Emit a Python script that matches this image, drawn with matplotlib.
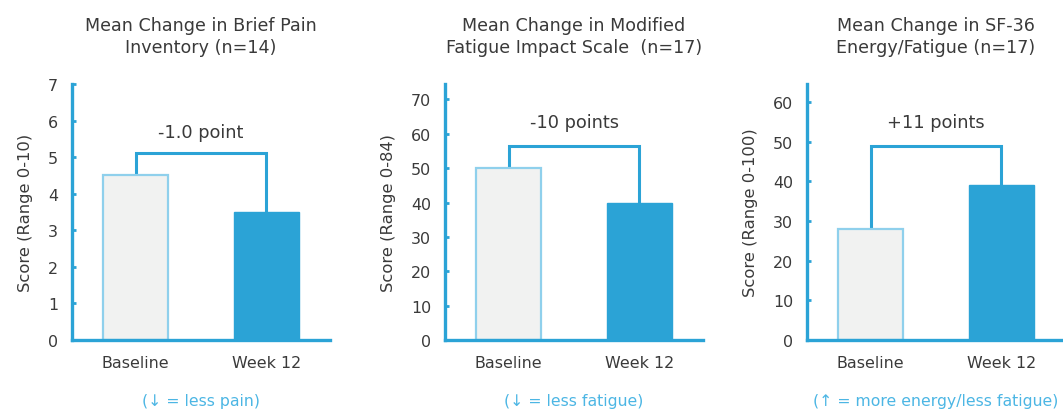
import matplotlib.pyplot as plt

# --- データ ---------------------------------------------------------------
categories = ['Baseline', 'Week 12']
titles = ['Mean Change in Brief Pain\nInventory (n=14)',
          'Mean Change in Modified\nFatigue Impact Scale  (n=17)',
          'Mean Change in SF-36\nEnergy/Fatigue (n=17)']
ylabels = ['Score (Range 0-10)', 'Score (Range 0-84)', 'Score (Range 0-100)']
bpi_values = [4.5, 3.5]
mfis_values = [50, 40]
sf36_values = [28, 39]
change_labels = ['-1.0 point', '-10 points', '+11 points']
bracket_levels = [5.1, 56.5, 48.8]
label_levels = [5.7, 63.5, 55]
ylims = [7, 74.5, 64.5]
yticks = [list(range(0, 8)), list(range(0, 71, 10)), list(range(0, 61, 10))]
footnotes = ['(\u2193 = less pain)', '(\u2193 = less fatigue)',
             '(\u2191 = more energy/less fatigue)']

BLUE = '#2ba3d6'
LIGHT = '#8fd0ec'
BASE_FILL = '#f1f2f1'
TEXT = '#3a3a3a'

W, H = 1063, 410
fig = plt.figure(figsize=(W / 100, H / 100), dpi=100)

# axes の位置 (ピクセル: 左, 右)
lefts = [72, 445, 807]
width_px = 258
top_px, bottom_px = 85, 341

all_values = [bpi_values, mfis_values, sf36_values]
for i, vals in enumerate(all_values):
    ax = fig.add_axes([lefts[i] / W, 1 - bottom_px / H,
                       width_px / W, (bottom_px - top_px) / H])
    x = [0, 1]
    ax.bar(x[0], vals[0], width=0.5, color=BASE_FILL, edgecolor=LIGHT,
           linewidth=1.6, zorder=2)
    ax.bar(x[1], vals[1], width=0.5, color=BLUE, edgecolor=BLUE,
           linewidth=1.0, zorder=2)
    lv = bracket_levels[i]
    ax.plot([x[0], x[0], x[1], x[1]], [vals[0], lv, lv, vals[1]],
            color=BLUE, linewidth=2.2, solid_joinstyle='miter', zorder=1)
    ax.text(0.5, label_levels[i], change_labels[i], ha='center', va='center',
            fontsize=12.8, color=TEXT)

    ax.set_xlim(-0.485, 1.485)
    ax.set_ylim(0, ylims[i])
    ax.set_yticks(yticks[i])
    ax.set_xticks(x)
    ax.set_xticklabels(categories)
    ax.tick_params(axis='x', length=0, pad=11, labelsize=11.4, colors=TEXT)
    ax.tick_params(axis='y', direction='in', length=3, width=2,
                   color=BLUE, labelsize=11.4, labelcolor=TEXT, pad=10)
    for s in ['top', 'right']:
        ax.spines[s].set_visible(False)
    for s in ['left', 'bottom']:
        ax.spines[s].set_color(BLUE)
        ax.spines[s].set_linewidth(2.4)
    ax.set_ylabel(ylabels[i], fontsize=11.8, color=TEXT, labelpad=11)
    ax.set_title(titles[i], fontsize=12.6, color=TEXT, pad=23, linespacing=1.27)
    ax.text(0.5, -0.235, footnotes[i], transform=ax.transAxes, ha='center',
            va='center', fontsize=11.3, color='#4cb6e4')

fig.savefig('out.png', dpi=100)
